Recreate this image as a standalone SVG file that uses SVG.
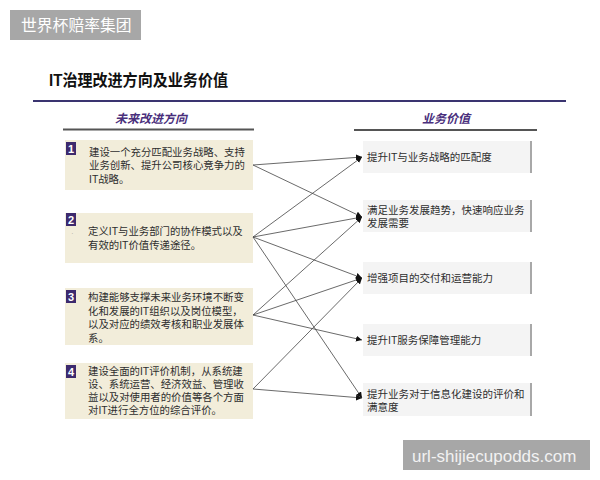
<svg xmlns="http://www.w3.org/2000/svg" width="600" height="480" viewBox="0 0 600 480">
<defs>
<style>
text{font-family:"Liberation Sans","Noto Sans CJK SC",sans-serif;}
.t{font-size:10.4px;fill:#2e2e2e;}
.rt{font-size:10.5px;fill:#2e2e2e;}
.hd{font-size:12px;font-weight:bold;font-style:italic;fill:#4a2f7c;}
.lb{fill:#f2edda;}
.rb{fill:#f4f4f4;}
.rs{stroke:#a8a8a8;stroke-width:2;}
.bd{fill:#3d2a6e;}
.bn{font-size:11px;font-weight:bold;fill:#fff;}
.c{stroke:#444;stroke-width:0.8;fill:none;marker-end:url(#ah);}
.ul{stroke:#555;stroke-width:2;}
</style>
<marker id="ah" markerUnits="userSpaceOnUse" markerWidth="6" markerHeight="6" refX="6" refY="3" orient="auto">
<path d="M0,0 L6,3 L0,6 z" fill="#111"/>
</marker>
</defs>
<rect width="600" height="480" fill="#fff"/>

<g id="watermark-top">
<rect x="10" y="10" width="131" height="30" fill="#a7a7a7"/>
<text x="21" y="31" style="font-size:15.8px;fill:#fff;">世界杯赔率集团</text>
</g>

<g id="title">
<text x="49" y="86" textLength="179" lengthAdjust="spacingAndGlyphs" style="font-size:16px;font-weight:bold;fill:#111;">IT治理改进方向及业务价值</text>
<line x1="33" y1="101" x2="566" y2="101" stroke="#3a3470" stroke-width="2"/>
</g>

<g id="header-left">
<text x="151" y="123" text-anchor="middle" class="hd">未来改进方向</text>
<line x1="63" y1="129.5" x2="254" y2="129.5" class="ul"/>
</g>
<g id="header-right">
<text x="446" y="123" text-anchor="middle" class="hd">业务价值</text>
<line x1="354" y1="130" x2="537" y2="130" class="ul"/>
</g>

<g id="left1">
<rect x="65" y="140" width="188" height="50" class="lb"/>
<rect x="66" y="142" width="10" height="13" class="bd"/>
<text x="71" y="152.5" text-anchor="middle" class="bn">1</text>
<text class="t"><tspan x="89" y="155.5">建设一个充分匹配业务战略、支持</tspan><tspan x="89" y="169">业务创新、提升公司核心竞争力的</tspan><tspan x="89" y="182.5">IT战略。</tspan></text>
</g>

<g id="left2">
<rect x="65" y="213" width="188" height="50" class="lb"/>
<rect x="66" y="213" width="10" height="13" class="bd"/>
<text x="71" y="223.5" text-anchor="middle" class="bn">2</text>
<text x="71.5" y="234" style="font-size:6px;fill:#777;">.</text>
<text class="t"><tspan x="88" y="235">定义IT与业务部门的协作模式以及</tspan><tspan x="88" y="248.5">有效的IT价值传递途径。</tspan></text>
</g>

<g id="left3">
<rect x="65" y="288" width="188" height="57" class="lb"/>
<rect x="66" y="290" width="10" height="13" class="bd"/>
<text x="71" y="300.5" text-anchor="middle" class="bn">3</text>
<text class="t"><tspan x="88" y="301">构建能够支撑未来业务环境不断变</tspan><tspan x="88" y="314.5">化和发展的IT组织以及岗位模型，</tspan><tspan x="88" y="328">以及对应的绩效考核和职业发展体</tspan><tspan x="88" y="341.5">系。</tspan></text>
</g>

<g id="left4">
<rect x="65" y="363" width="188" height="56" class="lb"/>
<rect x="66" y="365" width="10" height="13" class="bd"/>
<text x="71" y="375.5" text-anchor="middle" class="bn">4</text>
<text class="t"><tspan x="88" y="374.5">建设全面的IT评价机制，从系统建</tspan><tspan x="88" y="387.5">设、系统运营、经济效益、管理收</tspan><tspan x="88" y="400.5">益以及对使用者的价值等各个方面</tspan><tspan x="88" y="413.5">对IT进行全方位的综合评价。</tspan></text>
</g>

<g id="right1">
<rect x="363" y="141" width="169" height="32" class="rb"/>
<line x1="531" y1="141" x2="531" y2="173" class="rs"/>
<text x="367" y="161" class="rt">提升IT与业务战略的匹配度</text>
</g>
<g id="right2">
<rect x="363" y="200" width="169" height="32" class="rb"/>
<line x1="531" y1="200" x2="531" y2="232" class="rs"/>
<text class="rt"><tspan x="367" y="213.5">满足业务发展趋势，快速响应业务</tspan><tspan x="367" y="226.5">发展需要</tspan></text>
</g>
<g id="right3">
<rect x="363" y="262" width="169" height="32" class="rb"/>
<line x1="531" y1="262" x2="531" y2="294" class="rs"/>
<text x="367" y="282" class="rt">增强项目的交付和运营能力</text>
</g>
<g id="right4">
<rect x="363" y="324" width="169" height="32" class="rb"/>
<line x1="531" y1="324" x2="531" y2="356" class="rs"/>
<text x="367" y="344" class="rt">提升IT服务保障管理能力</text>
</g>
<g id="right5">
<rect x="363" y="383" width="169" height="33" class="rb"/>
<line x1="531" y1="383" x2="531" y2="416" class="rs"/>
<text class="rt"><tspan x="367" y="397.5">提升业务对于信息化建设的评价和</tspan><tspan x="367" y="410.5">满意度</tspan></text>
</g>

<g id="connectors">
<line x1="253" y1="165" x2="362" y2="157" class="c"/>
<line x1="253" y1="165" x2="362" y2="217" class="c"/>
<line x1="253" y1="237" x2="362" y2="157" class="c"/>
<line x1="253" y1="237" x2="362" y2="217" class="c"/>
<line x1="253" y1="237" x2="362" y2="278" class="c"/>
<line x1="253" y1="237" x2="362" y2="398" class="c"/>
<line x1="253" y1="315" x2="362" y2="217" class="c"/>
<line x1="253" y1="315" x2="362" y2="278" class="c"/>
<line x1="253" y1="315" x2="362" y2="340" class="c"/>
<line x1="253" y1="389" x2="362" y2="278" class="c"/>
<line x1="253" y1="389" x2="362" y2="398" class="c"/>
</g>

<g id="watermark-bottom">
<rect x="403" y="440" width="187" height="30" fill="#a7a7a7"/>
<text x="412" y="461.5" style="font-size:17px;fill:#f2f2f2;">url-shijiecupodds.com</text>
</g>
</svg>
